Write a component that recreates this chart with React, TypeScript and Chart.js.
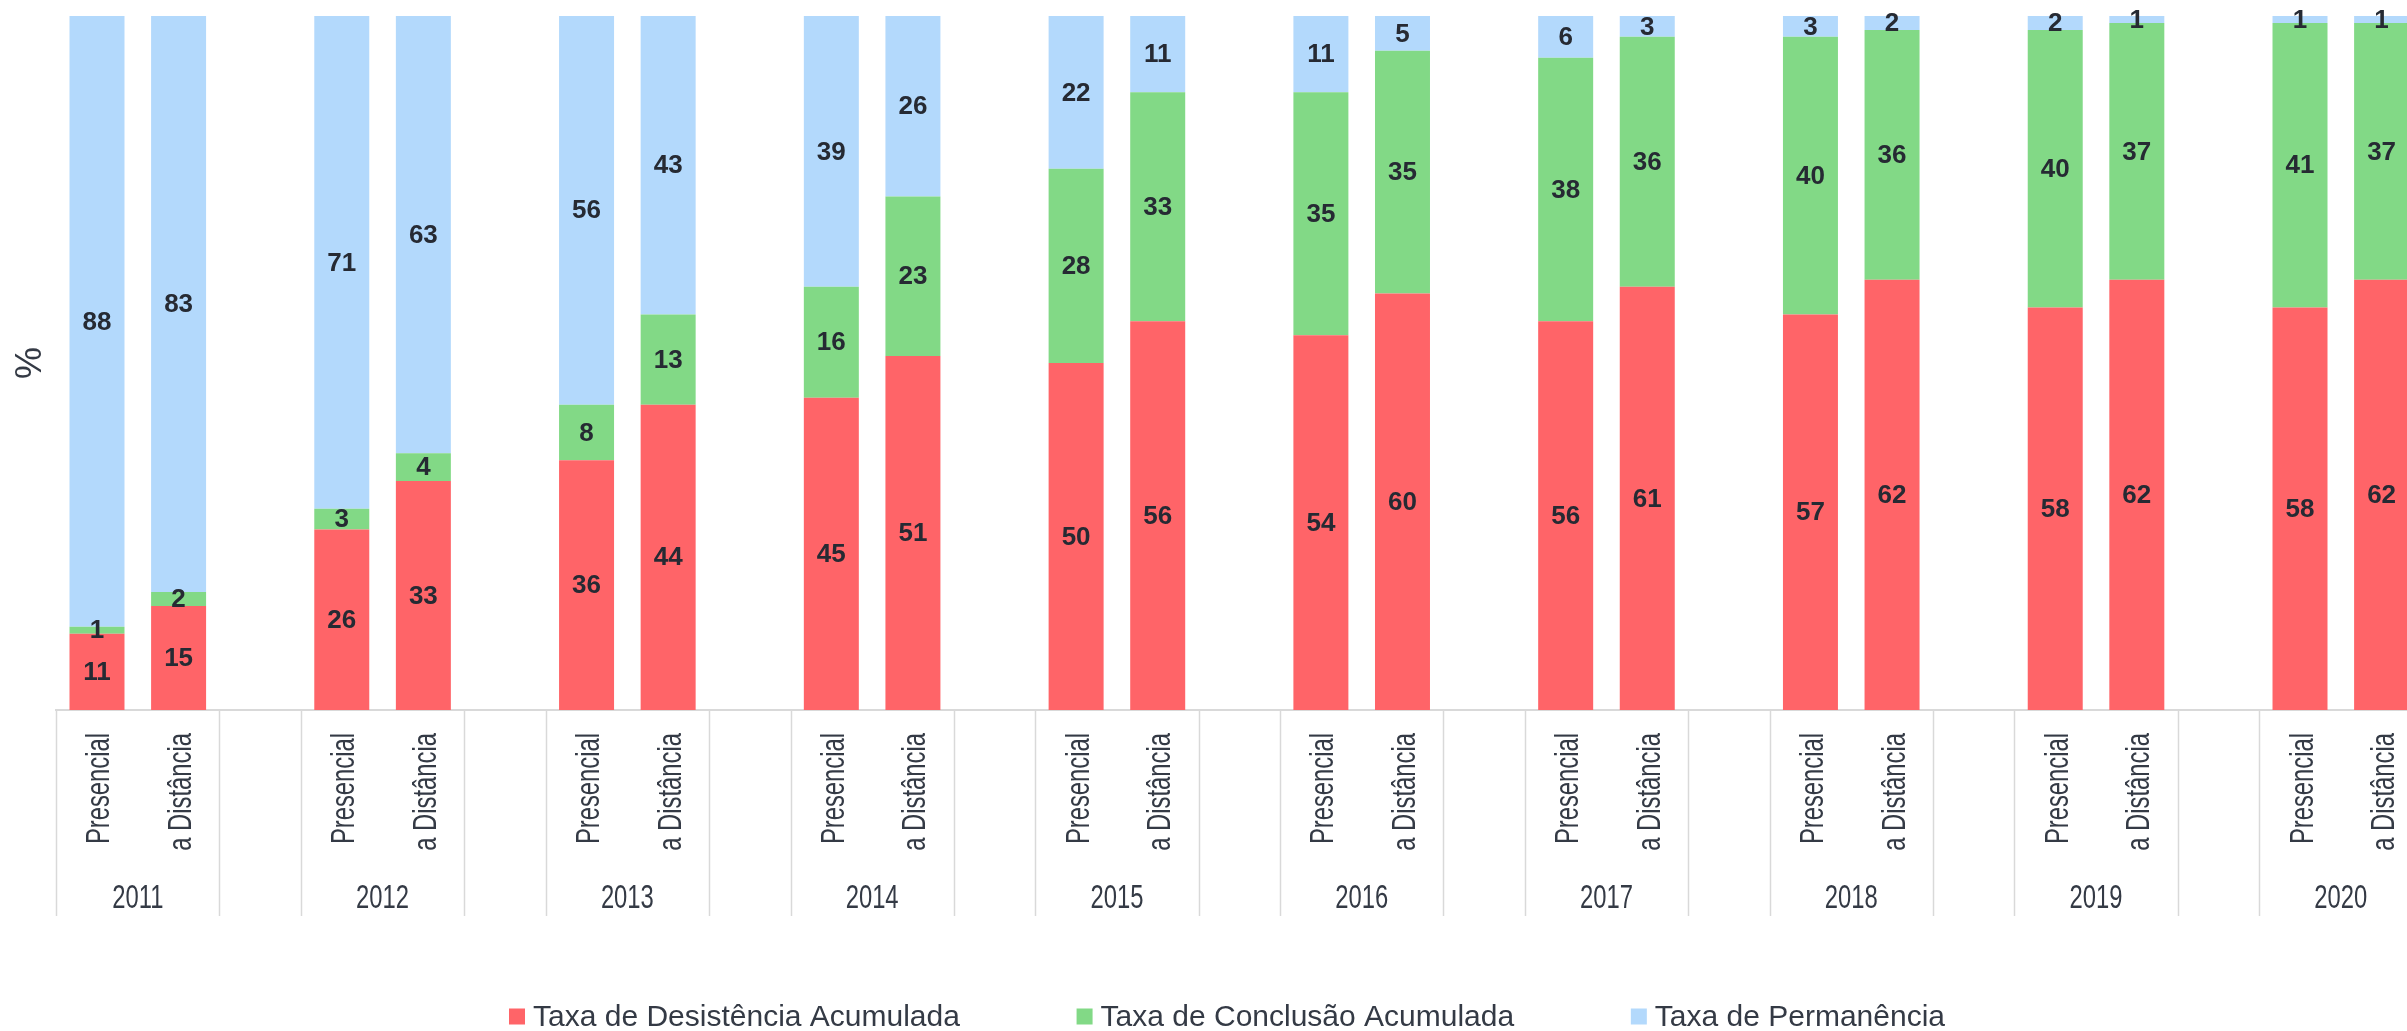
import React, { useEffect, useRef } from "react";
import { Chart, registerables } from "chart.js";

Chart.register(...registerables);

const years = ["2011", "2012", "2013", "2014", "2015", "2016", "2017", "2018", "2019", "2020"];
const modes = ["Presencial", "a Distância"];
const seriesNames = ["Taxa de Desistência Acumulada", "Taxa de Conclusão Acumulada", "Taxa de Permanência"];
// order per year: Presencial, a Distância
const desistencia = [11, 15, 26, 33, 36, 44, 45, 51, 50, 56, 54, 60, 56, 61, 57, 62, 58, 62, 58, 62];
const conclusao = [1, 2, 3, 4, 8, 13, 16, 23, 28, 33, 35, 35, 38, 36, 40, 36, 40, 37, 41, 37];
const permanencia = [88, 83, 71, 63, 56, 43, 39, 26, 22, 11, 11, 5, 6, 3, 3, 2, 2, 1, 1, 1];
const colors = ["#FF6468", "#82D986", "#B3D9FC"];

const SANS = "'Liberation Sans', Arial, sans-serif";
const TEXT = "#343a45";
const CONDENSE = 0.7;

function buildLabels(): string[] {
  const out: string[] = [];
  years.forEach((_, i) => {
    modes.forEach((m) => out.push(m));
    if (i < years.length - 1) out.push("");
  });
  return out;
}

function buildSeries(vals: number[]): (number | null)[] {
  const out: (number | null)[] = [];
  years.forEach((_, i) => {
    modes.forEach((_m, j) => out.push(vals[i * modes.length + j]));
    if (i < years.length - 1) out.push(null);
  });
  return out;
}

const valueLabels = {
  id: "valueLabels",
  afterDatasetsDraw(chart: any) {
    const ctx = chart.ctx;
    ctx.save();
    ctx.font = `bold 26px ${SANS}`;
    ctx.fillStyle = "#262a33";
    ctx.textAlign = "center";
    ctx.textBaseline = "middle";
    chart.data.datasets.forEach((ds: any, di: number) => {
      const meta = chart.getDatasetMeta(di);
      meta.data.forEach((el: any, idx: number) => {
        const v = ds.data[idx];
        if (v == null) return;
        const p = el.getProps(["x", "y", "base"], true);
        ctx.fillText(String(v), p.x, (p.y + p.base) / 2 + 1);
      });
    });
    ctx.restore();
  },
};

const categoryAxis = {
  id: "categoryAxis",
  afterDraw(chart: any) {
    const ctx = chart.ctx;
    const xs = chart.scales.x;
    const labels: string[] = chart.data.labels;
    const slot = xs.getPixelForValue(1) - xs.getPixelForValue(0);
    const top = chart.chartArea.bottom;
    ctx.save();
    ctx.fillStyle = TEXT;
    ctx.font = `34px ${SANS}`;
    // rotated inner labels
    labels.forEach((lab, idx) => {
      if (!lab) return;
      const cx = xs.getPixelForValue(idx);
      ctx.save();
      ctx.translate(cx + 12.5, top + 23);
      ctx.rotate(-Math.PI / 2);
      ctx.scale(CONDENSE, 1);
      ctx.textAlign = "right";
      ctx.textBaseline = "alphabetic";
      ctx.fillText(lab, 0, 0);
      ctx.restore();
    });
    // outer year labels + separators
    ctx.strokeStyle = "#d9d9d9";
    ctx.lineWidth = 1.5;
    years.forEach((yr, i) => {
      const p = xs.getPixelForValue(3 * i);
      const d = xs.getPixelForValue(3 * i + 1);
      ctx.save();
      ctx.translate((p + d) / 2, 908);
      ctx.scale(CONDENSE, 1);
      ctx.textAlign = "center";
      ctx.textBaseline = "alphabetic";
      ctx.fillText(yr, 0, 0);
      ctx.restore();
      [p - slot / 2, d + slot / 2].forEach((lx) => {
        ctx.beginPath();
        ctx.moveTo(Math.round(lx) + 0.5, top);
        ctx.lineTo(Math.round(lx) + 0.5, 916);
        ctx.stroke();
      });
    });
    ctx.restore();
  },
};

const customLegend = {
  id: "customLegend",
  afterDraw(chart: any) {
    const ctx = chart.ctx;
    ctx.save();
    ctx.font = `30px ${SANS}`;
    const box = 16;
    const gapText = 8;
    const targetTotal = 1436;
    const items = chart.data.datasets.map((ds: any) => ({
      text: ds.label,
      color: ds.backgroundColor,
      w: ctx.measureText(ds.label).width,
    }));
    const sum = items.reduce((s: number, it: any) => s + box + gapText + it.w, 0);
    const gapItem = (targetTotal - sum) / (items.length - 1);
    let x = chart.width / 2 - targetTotal / 2;
    const cy = 1016.5;
    ctx.textBaseline = "middle";
    ctx.textAlign = "left";
    items.forEach((it: any) => {
      ctx.fillStyle = it.color;
      ctx.fillRect(x, cy - box / 2, box, box);
      ctx.fillStyle = TEXT;
      ctx.fillText(it.text, x + box + gapText, cy + 1);
      x += box + gapText + it.w + gapItem;
    });
    ctx.restore();
  },
};

export default function App() {
  const ref = useRef<HTMLCanvasElement | null>(null);

  useEffect(() => {
    if (!ref.current) return;
    const labels = buildLabels();
    const chart = new Chart(ref.current, {
      type: "bar",
      data: {
        labels,
        datasets: [desistencia, conclusao, permanencia].map((vals, i) => ({
          label: seriesNames[i],
          data: buildSeries(vals),
          backgroundColor: colors[i],
          borderWidth: 0,
          categoryPercentage: 1,
          barPercentage: 0.674,
        })),
      },
      options: {
        animation: false,
        responsive: true,
        maintainAspectRatio: false,
        layout: { padding: { left: 5, right: 31.6, top: 16, bottom: 0 } },
        plugins: {
          legend: { display: false },
          tooltip: { enabled: false },
        },
        scales: {
          x: {
            stacked: true,
            grid: { display: false, drawTicks: false },
            border: { display: true, color: "#d9d9d9", width: 2 },
            ticks: { display: false, autoSkip: false },
            afterFit: (s: any) => {
              s.height = 321;
            },
          },
          y: {
            stacked: true,
            min: 0,
            max: 100,
            grid: { display: false, drawTicks: false },
            border: { display: false },
            ticks: { display: false },
            title: {
              display: true,
              text: "%",
              color: TEXT,
              font: { size: 36, family: SANS },
              padding: { top: 4, bottom: 4 },
            },
          },
        },
      },
      plugins: [valueLabels, categoryAxis, customLegend],
    });
    return () => chart.destroy();
  }, []);

  return (
    <div
      style={{
        position: "fixed",
        left: 0,
        top: 0,
        width: 2407,
        height: 1031,
        overflow: "hidden",
        background: "#ffffff",
      }}
    >
      <div style={{ position: "relative", width: 2454, height: 1031 }}>
        <canvas ref={ref} />
      </div>
    </div>
  );
}
